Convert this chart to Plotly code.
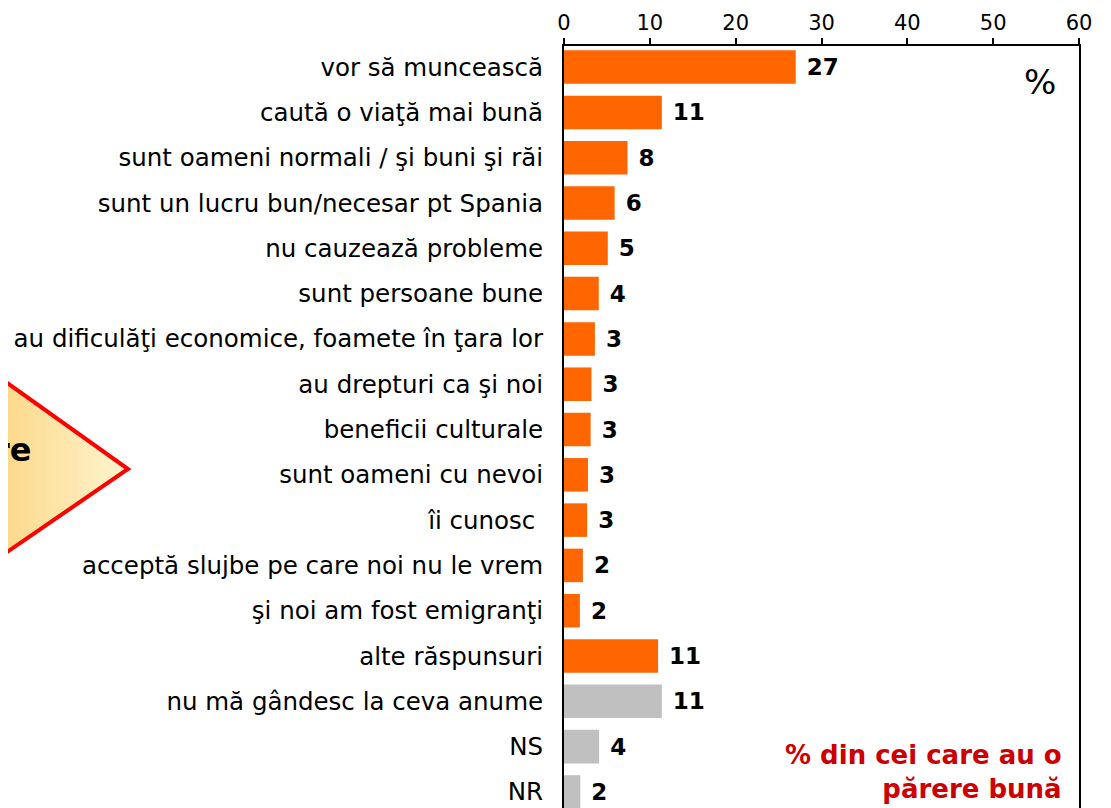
import plotly.graph_objects as go

# date
categorii = [
    "vor să muncească",
    "caută o viaţă mai bună",
    "sunt oameni normali / şi buni şi răi",
    "sunt un lucru bun/necesar pt Spania",
    "nu cauzează probleme",
    "sunt persoane bune",
    "au dificulăţi economice, foamete în ţara lor",
    "au drepturi ca şi noi",
    "beneficii culturale",
    "sunt oameni cu nevoi",
    "îi cunosc ",
    "acceptă slujbe pe care noi nu le vrem",
    "şi noi am fost emigranţi",
    "alte răspunsuri",
    "nu mă gândesc la ceva anume",
    "NS",
    "NR",
]
valori = [27.0, 11.4, 7.4, 5.9, 5.1, 4.05, 3.6, 3.2, 3.1, 2.8, 2.7, 2.2, 1.85, 10.96, 11.4, 4.09, 1.9]
etichete = ["27", "11", "8", "6", "5", "4", "3", "3", "3", "3", "3", "2", "2", "11", "11", "4", "2"]
culori = ["#FF6600"] * 14 + ["#C0C0C0"] * 3

# pagina are 8px margine implicita, deci figura e mai mica cu 16px
OFF = 8
W, H = 1111 - 2 * OFF, 808 - OFF
TOP = 46 - OFF
FONT = "DejaVu Sans"


# pozitii date in pixeli de ecran -> coordonate paper
def px(x):
    return (x - OFF) / W


def py(y):
    return (H - (y - OFF)) / (H - TOP)


fig = go.Figure()
fig.add_trace(go.Bar(
    x=valori,
    y=categorii,
    orientation="h",
    marker=dict(color=culori, line=dict(width=0)),
    text=["\u00a0" + e for e in etichete],
    textposition="outside",
    textfont=dict(family=FONT, size=23, color="black", weight="bold"),
    cliponaxis=False,
    hoverinfo="skip",
))

# triunghiul din stanga, cu gradient facut din benzi verticale
shapes = []
apex = (128, 469)
top_left = (-60, 335)
bot_left = (-60, 598)
c0 = (253, 216, 136)
c1 = (255, 245, 208)
n = 30


def edges(x):
    t = (x - top_left[0]) / (apex[0] - top_left[0])
    yt = top_left[1] + t * (apex[1] - top_left[1])
    yb = bot_left[1] + t * (apex[1] - bot_left[1])
    return yt, yb


for i in range(n):
    xa = -60 + (188 / n) * i
    xb = min(-60 + (188 / n) * (i + 1) + 0.6, 128)
    ta, ba = edges(xa)
    tb, bb = edges(xb)
    f = max(0.0, min(1.0, (xa + xb) / 2 / 128))
    col = "rgb(%d,%d,%d)" % tuple(int(c0[k] + (c1[k] - c0[k]) * f) for k in range(3))
    path = "M %f %f L %f %f L %f %f L %f %f Z" % (
        px(xa), py(ta), px(xb), py(tb), px(xb), py(bb), px(xa), py(ba))
    shapes.append(dict(type="path", xref="paper", yref="paper", path=path,
                       fillcolor=col, line=dict(width=0), layer="below"))

tri = "M %f %f L %f %f L %f %f Z" % (
    px(top_left[0]), py(top_left[1]), px(apex[0]), py(apex[1]), px(bot_left[0]), py(bot_left[1]))
shapes.append(dict(type="path", xref="paper", yref="paper", path=tri,
                   line=dict(color="#FF0000", width=4), layer="below"))

fig.update_layout(
    width=W,
    height=H,
    margin=dict(l=0, r=0, t=TOP, b=0, autoexpand=False),
    paper_bgcolor="white",
    plot_bgcolor="white",
    showlegend=False,
    bargap=0.26,
    font=dict(family=FONT, color="black"),
    xaxis=dict(
        domain=[px(564), px(1079)],
        side="top",
        range=[0, 60],
        dtick=10,
        automargin=False,
        showgrid=False,
        zeroline=False,
        showline=True,
        linecolor="black",
        linewidth=2,
        ticks="outside",
        ticklen=6,
        tickwidth=1.5,
        tickcolor="black",
        tickfont=dict(family=FONT, size=21, color="black"),
    ),
    yaxis=dict(
        range=[16.355, -0.466],
        automargin=False,
        showgrid=False,
        zeroline=False,
        showline=True,
        mirror=True,
        linecolor="black",
        linewidth=2,
        ticks="",
        ticklabelstandoff=14,
        tickfont=dict(family=FONT, size=24.5, color="black"),
    ),
    shapes=shapes,
    annotations=[
        dict(text="%", xref="paper", yref="paper", x=px(1040), y=py(82),
             xanchor="center", yanchor="middle", showarrow=False,
             font=dict(family=FONT, size=34, color="black")),
        dict(text="% din cei care au o<br>părere bună", xref="paper", yref="paper",
             x=px(1064), y=py(772), xanchor="right", yanchor="middle", align="right",
             showarrow=False,
             font=dict(family=FONT, size=26, color="#CC0000", weight="bold")),
        dict(text="re", xref="paper", yref="paper", x=px(33), y=py(450),
             xanchor="right", yanchor="middle", showarrow=False,
             font=dict(family=FONT, size=32, color="black", weight="bold")),
    ],
)

fig.write_html("out.html", config={"displayModeBar": False})
